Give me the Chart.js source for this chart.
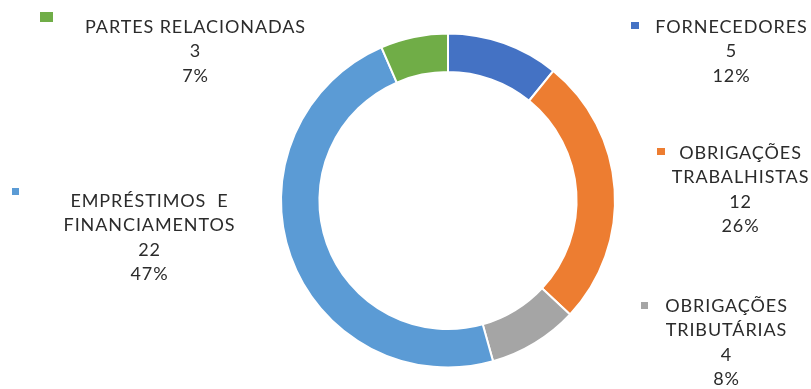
<!DOCTYPE html>
<html>
<head>
<meta charset="utf-8">
<script src="https://cdn.jsdelivr.net/npm/chart.js@4.4.1/dist/chart.umd.min.js"></script>
<style>
  html, body { margin: 0; padding: 0; background: #fff; }
  #wrap { width: 811px; height: 389px; position: relative; }
</style>
</head>
<body>
<div id="wrap"><canvas id="debt-chart"></canvas></div>
<script>
// composição do passivo (R$ milhões)
const categories = [
	[ 'FORNECEDORES' ],
	[ 'OBRIGAÇÕES', 'TRABALHISTAS' ],
	[ 'OBRIGAÇÕES', 'TRIBUTÁRIAS' ],
	[ 'EMPRÉSTIMOS  E', 'FINANCIAMENTOS' ],
	[ 'PARTES RELACIONADAS' ],
];
const values = [ 5, 12, 4, 22, 3 ];
const percentLabels = [ '12%', '26%', '8%', '47%', '7%' ];
const sliceColors = [ '#4472C4', '#ED7D31', '#A5A5A5', '#5B9BD5', '#70AD47' ];

// where each callout block sits (text center x, first line y) and its colour key
const calloutPos = [
	{ x: 731, y: 27, key: [ 631, 22, 8, 7 ] },
	{ x: 740, y: 153, key: [ 657, 148, 8, 7 ] },
	{ x: 726, y: 306, key: [ 641, 302, 7, 7 ] },
	{ x: 149, y: 201, key: [ 12, 188, 7, 7 ] },
	{ x: 195, y: 27, key: [ 40, 12, 13, 10 ] },
];

const lineHeight = 24.5;
const labelFont = '18px Lato, "DejaVu Sans", sans-serif';

// draws the category / value / percent text next to the ring
const calloutPlugin = {
	id: 'callouts',
	afterDraw( chart ) {
		const c = chart.ctx;
		c.save();
		c.font = labelFont;
		c.letterSpacing = '0.9px';
		c.textAlign = 'center';
		c.textBaseline = 'middle';
		calloutPos.forEach( ( pos, i ) => {
			const lines = categories[ i ].concat( [ String( values[ i ] ), percentLabels[ i ] ] );
			c.fillStyle = '#2b2b2b';
			lines.forEach( ( txt, j ) => {
				c.fillText( txt, pos.x + 0.5, pos.y + j * lineHeight );
			} );
			c.fillStyle = sliceColors[ i ];
			c.fillRect( pos.key[ 0 ], pos.key[ 1 ], pos.key[ 2 ], pos.key[ 3 ] );
		} );
		c.restore();
	},
};

new Chart( document.getElementById( 'debt-chart' ), {
	type: 'doughnut',
	data: {
		labels: categories.map( l => l.join( ' ' ) ),
		datasets: [
			{
				data: values,
				backgroundColor: sliceColors,
				borderColor: '#ffffff',
				borderWidth: 2,
			},
		],
	},
	options: {
		responsive: true,
		maintainAspectRatio: false,
		animation: false,
		cutout: '77%',
		layout: { padding: { left: 280, right: 195, top: 32, bottom: 20 } },
		plugins: {
			legend: { display: false },
			tooltip: { enabled: false },
		},
	},
	plugins: [ calloutPlugin ],
} );
</script>
</body>
</html>
